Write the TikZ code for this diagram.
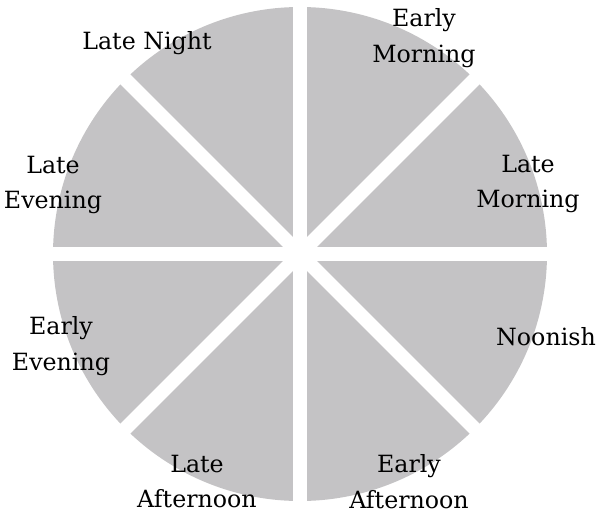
\documentclass[tikz,border=0pt]{standalone}
\usepackage{fontspec}
\setmainfont{DejaVu Serif}
\usepackage{tikz}
\definecolor{slicegray}{RGB}{196,195,197}

\begin{document}
\begin{tikzpicture}[x=0.02cm, y=-0.02cm,
    slice/.style={fill=slicegray, draw=none},
    gap/.style={draw=white, line width=0.28cm},
    daypart/.style={align=center, inner sep=0pt, font=\fontsize{13.5}{20.4}\selectfont}]
  \useasboundingbox (0,0) rectangle (598,514);
  \begin{scope}[shift={(300,254)}]
    % the eight parts of the day
    \foreach \a in {0,45,...,315}
      \fill[slice] (0,0) -- (\a:247) arc[start angle=\a, end angle=\a+45, radius=247] -- cycle;
    % white gaps between the parts
    \foreach \a in {0,45,90,135}
      \draw[gap] (\a:260) -- (\a+180:260);
  \end{scope}

  \node[daypart] (latenight) at (147,43) {Late Night};
  \node[daypart] (earlymorning) at (424,38) {Early\\Morning};
  \node[daypart] (latemorning) at (528,184) {Late\\Morning};
  \node[daypart] (noonish) at (546,337) {Noonish};
  \node[daypart] (earlyafternoon) at (409,481.5) {Early\\Afternoon};
  \node[daypart] (lateafternoon) at (197,481.5) {Late\\Afternoon};
  \node[daypart] (earlyevening) at (61,346) {Early\\Evening};
  \node[daypart] (lateevening) at (53,185) {Late\\Evening};
\end{tikzpicture}
\end{document}
